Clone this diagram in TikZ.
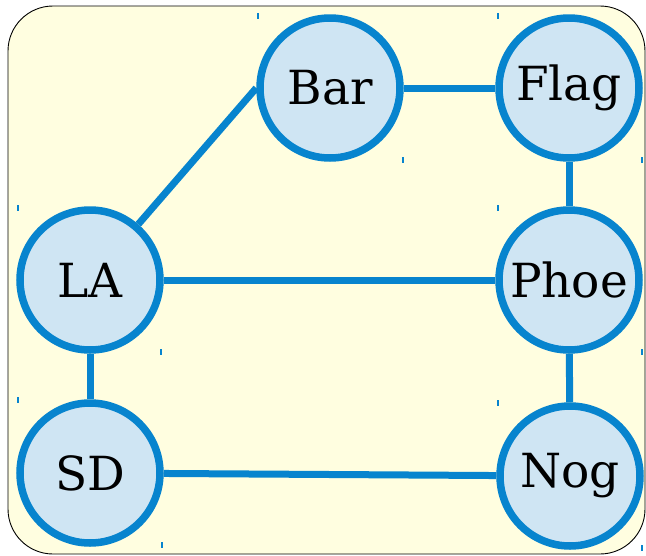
\documentclass[tikz,border=0pt]{standalone}
\usepackage{fontspec}
\setmainfont{DejaVu Serif}
\definecolor{nodeblue}{HTML}{0784CE}
\definecolor{nodefill}{HTML}{CFE5F3}
\definecolor{bgyellow}{HTML}{FFFEE0}
\begin{document}
\begin{tikzpicture}[x=1pt,y=-1pt,
  city/.style={circle,draw=nodeblue,fill=nodefill,line width=7.5pt,minimum size=140pt,inner sep=0pt,font=\fontsize{47}{50}\selectfont},
  road/.style={draw=nodeblue,line width=7pt},
  tick/.style={draw=nodeblue,line width=1.2pt}]
\useasboundingbox (0,0) rectangle (646,555);
\draw[fill=bgyellow,draw=black,line width=0.9pt,rounded corners=45pt] (8,6) rectangle (645,554);
\node[city] (Bar) at (330,88) {Bar};
\node[city] (Flag) at (569,88) {Flag};
\node[city] (LA) at (90,280) {LA};
\node[city] (Phoe) at (569,280) {Phoe};
\node[city] (SD) at (90,473) {SD};
\node[city] (Nog) at (570,476) {Nog};
\path[road] (LA) -- (Bar.west);
\path[road] (Bar) -- (Flag);
\path[road] (Flag) -- (Phoe);
\path[road] (LA) -- (Phoe);
\path[road] (LA) -- (SD);
\path[road] (Phoe) -- (Nog);
\path[road] (SD) -- (Nog);
\foreach \x/\y in {258/13,498/13,403/157,642/157,18/205,498/205,161/349,642/349,18/397,498/400,162/542,642/545}{
  \path[tick] (\x,\y) -- (\x,\y+6);
}
\end{tikzpicture}
\end{document}
